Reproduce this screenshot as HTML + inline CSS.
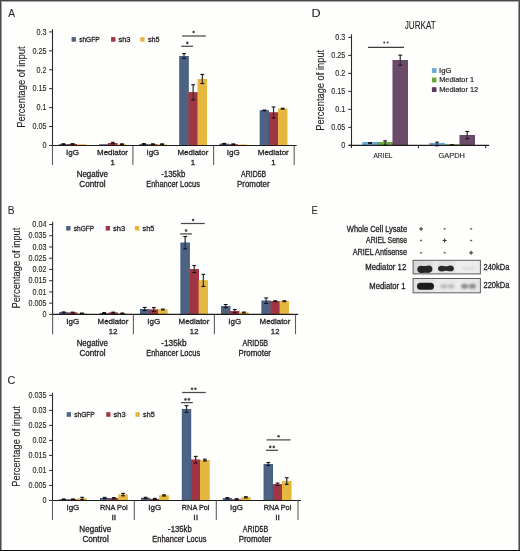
<!DOCTYPE html>
<html><head><meta charset="utf-8"><style>
html,body{margin:0;padding:0;background:#fff;}
body{width:520px;height:551px;overflow:hidden;position:relative;}
svg{position:absolute;left:0;top:0;will-change:transform;font-family:"Liberation Sans",sans-serif;}
</style></head><body>
<svg width="520" height="551" viewBox="0 0 520 551">
<defs>
<filter id="bl" x="-20%" y="-50%" width="140%" height="200%"><feGaussianBlur stdDeviation="0.6"/></filter>
<filter id="bl2" x="-20%" y="-50%" width="140%" height="200%"><feGaussianBlur stdDeviation="0.9"/></filter>
<linearGradient id="bg1" x1="413" x2="480.4" y1="0" y2="0" gradientUnits="userSpaceOnUse">
<stop offset="0" stop-color="#d8d8d8"/><stop offset="0.28" stop-color="#dcdcdc"/><stop offset="0.33" stop-color="#ececec"/><stop offset="0.38" stop-color="#e0e0e0"/><stop offset="0.6" stop-color="#e2e2e2"/><stop offset="0.66" stop-color="#eeeeee"/><stop offset="1" stop-color="#eaeaea"/></linearGradient>
<linearGradient id="bg2" x1="413" x2="480.4" y1="0" y2="0" gradientUnits="userSpaceOnUse">
<stop offset="0" stop-color="#e2e2e2"/><stop offset="0.3" stop-color="#e4e4e4"/><stop offset="0.36" stop-color="#ececec"/><stop offset="0.6" stop-color="#e6e6e6"/><stop offset="0.66" stop-color="#ececec"/><stop offset="1" stop-color="#e4e4e4"/></linearGradient>
</defs>
<rect x="0" y="0" width="520" height="551" fill="#fefefc"/>
<line x1="49.10" y1="145.45" x2="52.50" y2="145.45" stroke="#2a2a2a" stroke-width="1"/>
<text transform="translate(42.74,148.20) scale(0.8800,1)" x="-0.32" y="0" font-size="8.2" fill="#231f20" stroke="#231f20" stroke-width="0.12">0</text>
<line x1="49.10" y1="126.52" x2="52.50" y2="126.52" stroke="#2a2a2a" stroke-width="1"/>
<text transform="translate(32.73,129.27) scale(0.8800,1)" x="-0.32" y="0" font-size="8.2" fill="#231f20" stroke="#231f20" stroke-width="0.12">0.05</text>
<line x1="49.10" y1="107.60" x2="52.50" y2="107.60" stroke="#2a2a2a" stroke-width="1"/>
<text transform="translate(36.80,110.35) scale(0.8800,1)" x="-0.32" y="0" font-size="8.2" fill="#231f20" stroke="#231f20" stroke-width="0.12">0.1</text>
<line x1="49.10" y1="88.67" x2="52.50" y2="88.67" stroke="#2a2a2a" stroke-width="1"/>
<text transform="translate(32.73,91.42) scale(0.8800,1)" x="-0.32" y="0" font-size="8.2" fill="#231f20" stroke="#231f20" stroke-width="0.12">0.15</text>
<line x1="49.10" y1="69.75" x2="52.50" y2="69.75" stroke="#2a2a2a" stroke-width="1"/>
<text transform="translate(36.81,72.50) scale(0.8800,1)" x="-0.32" y="0" font-size="8.2" fill="#231f20" stroke="#231f20" stroke-width="0.12">0.2</text>
<line x1="49.10" y1="50.83" x2="52.50" y2="50.83" stroke="#2a2a2a" stroke-width="1"/>
<text transform="translate(32.73,53.58) scale(0.8800,1)" x="-0.32" y="0" font-size="8.2" fill="#231f20" stroke="#231f20" stroke-width="0.12">0.25</text>
<line x1="49.10" y1="31.90" x2="52.50" y2="31.90" stroke="#2a2a2a" stroke-width="1"/>
<text transform="translate(36.76,34.65) scale(0.8800,1)" x="-0.32" y="0" font-size="8.2" fill="#231f20" stroke="#231f20" stroke-width="0.12">0.3</text>
<rect x="58.87" y="144.10" width="9.15" height="1.35" fill="#4e6382"/>
<rect x="68.02" y="143.98" width="9.15" height="1.47" fill="#a03644"/>
<rect x="77.17" y="144.25" width="9.15" height="1.20" fill="#e5b740"/>
<rect x="99.06" y="144.17" width="9.15" height="1.28" fill="#4e6382"/>
<rect x="108.21" y="143.04" width="9.15" height="2.41" fill="#a03644"/>
<rect x="108.61" y="143.44" width="8.35" height="2.01" fill="none" stroke="#a8323f" stroke-width="0.8"/>
<rect x="117.36" y="144.17" width="9.15" height="1.28" fill="#e5b740"/>
<rect x="139.25" y="143.98" width="9.15" height="1.47" fill="#4e6382"/>
<rect x="148.40" y="144.17" width="9.15" height="1.28" fill="#a03644"/>
<rect x="157.55" y="144.17" width="9.15" height="1.28" fill="#e5b740"/>
<rect x="179.44" y="56.01" width="9.15" height="89.44" fill="#4e6382"/>
<rect x="179.84" y="56.41" width="8.35" height="89.04" fill="none" stroke="#3f5f8c" stroke-width="0.8"/>
<rect x="188.59" y="92.31" width="9.15" height="53.14" fill="#a03644"/>
<rect x="188.99" y="92.71" width="8.35" height="52.74" fill="none" stroke="#a8323f" stroke-width="0.8"/>
<rect x="197.74" y="78.99" width="9.15" height="66.46" fill="#e5b740"/>
<rect x="198.14" y="79.39" width="8.35" height="66.06" fill="none" stroke="#e8b838" stroke-width="0.8"/>
<rect x="219.63" y="143.79" width="9.15" height="1.66" fill="#4e6382"/>
<rect x="220.03" y="144.19" width="8.35" height="1.26" fill="none" stroke="#3f5f8c" stroke-width="0.8"/>
<rect x="228.78" y="144.17" width="9.15" height="1.28" fill="#a03644"/>
<rect x="237.93" y="144.44" width="9.15" height="1.01" fill="#e5b740"/>
<rect x="259.82" y="110.40" width="9.15" height="35.05" fill="#4e6382"/>
<rect x="260.22" y="110.80" width="8.35" height="34.65" fill="none" stroke="#3f5f8c" stroke-width="0.8"/>
<rect x="268.97" y="112.48" width="9.15" height="32.97" fill="#a03644"/>
<rect x="269.37" y="112.88" width="8.35" height="32.57" fill="none" stroke="#a8323f" stroke-width="0.8"/>
<rect x="278.12" y="108.70" width="9.15" height="36.75" fill="#e5b740"/>
<rect x="278.52" y="109.10" width="8.35" height="36.35" fill="none" stroke="#e8b838" stroke-width="0.8"/>
<line x1="52.50" y1="29.20" x2="52.50" y2="145.45" stroke="#2a2a2a" stroke-width="1.1"/>
<line x1="52.50" y1="145.45" x2="52.50" y2="165.00" stroke="#5e5e5e" stroke-width="1.1"/>
<line x1="52.50" y1="145.45" x2="296.70" y2="145.45" stroke="#1c1c1c" stroke-width="1.1"/>
<line x1="132.90" y1="145.45" x2="132.90" y2="165.00" stroke="#5e5e5e" stroke-width="1.1"/>
<line x1="213.60" y1="145.45" x2="213.60" y2="165.00" stroke="#5e5e5e" stroke-width="1.1"/>
<line x1="294.20" y1="145.45" x2="294.20" y2="165.00" stroke="#5e5e5e" stroke-width="1.1"/>
<line x1="63.45" y1="143.79" x2="63.45" y2="144.40" stroke="#333" stroke-width="1.25"/>
<line x1="61.55" y1="143.79" x2="65.34" y2="143.79" stroke="#111" stroke-width="1.1"/>
<line x1="61.55" y1="144.40" x2="65.34" y2="144.40" stroke="#111" stroke-width="1.1"/>
<line x1="72.59" y1="143.68" x2="72.59" y2="144.29" stroke="#333" stroke-width="1.25"/>
<line x1="70.69" y1="143.68" x2="74.50" y2="143.68" stroke="#111" stroke-width="1.1"/>
<line x1="70.69" y1="144.29" x2="74.50" y2="144.29" stroke="#111" stroke-width="1.1"/>
<line x1="112.79" y1="142.28" x2="112.79" y2="143.79" stroke="#333" stroke-width="1.25"/>
<line x1="110.89" y1="142.28" x2="114.69" y2="142.28" stroke="#111" stroke-width="1.1"/>
<line x1="110.89" y1="143.79" x2="114.69" y2="143.79" stroke="#111" stroke-width="1.1"/>
<line x1="121.94" y1="143.87" x2="121.94" y2="144.47" stroke="#333" stroke-width="1.25"/>
<line x1="120.03" y1="143.87" x2="123.84" y2="143.87" stroke="#111" stroke-width="1.1"/>
<line x1="120.03" y1="144.47" x2="123.84" y2="144.47" stroke="#111" stroke-width="1.1"/>
<line x1="143.82" y1="143.60" x2="143.82" y2="144.36" stroke="#333" stroke-width="1.25"/>
<line x1="141.92" y1="143.60" x2="145.72" y2="143.60" stroke="#111" stroke-width="1.1"/>
<line x1="141.92" y1="144.36" x2="145.72" y2="144.36" stroke="#111" stroke-width="1.1"/>
<line x1="152.97" y1="143.87" x2="152.97" y2="144.47" stroke="#333" stroke-width="1.25"/>
<line x1="151.07" y1="143.87" x2="154.88" y2="143.87" stroke="#111" stroke-width="1.1"/>
<line x1="151.07" y1="144.47" x2="154.88" y2="144.47" stroke="#111" stroke-width="1.1"/>
<line x1="162.12" y1="143.87" x2="162.12" y2="144.47" stroke="#333" stroke-width="1.25"/>
<line x1="160.22" y1="143.87" x2="164.03" y2="143.87" stroke="#111" stroke-width="1.1"/>
<line x1="160.22" y1="144.47" x2="164.03" y2="144.47" stroke="#111" stroke-width="1.1"/>
<line x1="184.01" y1="53.55" x2="184.01" y2="58.47" stroke="#333" stroke-width="1.25"/>
<line x1="182.11" y1="53.55" x2="185.91" y2="53.55" stroke="#111" stroke-width="1.1"/>
<line x1="182.11" y1="58.47" x2="185.91" y2="58.47" stroke="#111" stroke-width="1.1"/>
<line x1="193.16" y1="84.74" x2="193.16" y2="99.88" stroke="#333" stroke-width="1.25"/>
<line x1="191.26" y1="84.74" x2="195.06" y2="84.74" stroke="#111" stroke-width="1.1"/>
<line x1="191.26" y1="99.88" x2="195.06" y2="99.88" stroke="#111" stroke-width="1.1"/>
<line x1="202.31" y1="74.44" x2="202.31" y2="83.53" stroke="#333" stroke-width="1.25"/>
<line x1="200.41" y1="74.44" x2="204.22" y2="74.44" stroke="#111" stroke-width="1.1"/>
<line x1="200.41" y1="83.53" x2="204.22" y2="83.53" stroke="#111" stroke-width="1.1"/>
<line x1="224.20" y1="143.41" x2="224.20" y2="144.17" stroke="#333" stroke-width="1.25"/>
<line x1="222.30" y1="143.41" x2="226.10" y2="143.41" stroke="#111" stroke-width="1.1"/>
<line x1="222.30" y1="144.17" x2="226.10" y2="144.17" stroke="#111" stroke-width="1.1"/>
<line x1="233.35" y1="143.94" x2="233.35" y2="144.40" stroke="#333" stroke-width="1.25"/>
<line x1="231.45" y1="143.94" x2="235.25" y2="143.94" stroke="#111" stroke-width="1.1"/>
<line x1="231.45" y1="144.40" x2="235.25" y2="144.40" stroke="#111" stroke-width="1.1"/>
<line x1="264.39" y1="110.02" x2="264.39" y2="110.78" stroke="#333" stroke-width="1.25"/>
<line x1="262.49" y1="110.02" x2="266.29" y2="110.02" stroke="#111" stroke-width="1.1"/>
<line x1="262.49" y1="110.78" x2="266.29" y2="110.78" stroke="#111" stroke-width="1.1"/>
<line x1="273.54" y1="106.99" x2="273.54" y2="117.97" stroke="#333" stroke-width="1.25"/>
<line x1="271.64" y1="106.99" x2="275.44" y2="106.99" stroke="#111" stroke-width="1.1"/>
<line x1="271.64" y1="117.97" x2="275.44" y2="117.97" stroke="#111" stroke-width="1.1"/>
<line x1="282.69" y1="108.24" x2="282.69" y2="109.15" stroke="#333" stroke-width="1.25"/>
<line x1="280.79" y1="108.24" x2="284.59" y2="108.24" stroke="#111" stroke-width="1.1"/>
<line x1="280.79" y1="109.15" x2="284.59" y2="109.15" stroke="#111" stroke-width="1.1"/>
<text transform="translate(66.80,155.10) scale(0.9904,1)" x="-0.75" y="0" font-size="8.1" fill="#231f20" stroke="#231f20" stroke-width="0.3">IgG</text>
<text transform="translate(97.69,155.10) scale(0.9830,1)" x="-0.66" y="0" font-size="8.1" fill="#231f20" stroke="#231f20" stroke-width="0.3">Mediator</text>
<text transform="translate(111.09,164.70) scale(0.9700,1)" x="-0.62" y="0" font-size="8.1" fill="#231f20" stroke="#231f20" stroke-width="0.3">1</text>
<text transform="translate(147.17,155.10) scale(0.9904,1)" x="-0.75" y="0" font-size="8.1" fill="#231f20" stroke="#231f20" stroke-width="0.3">IgG</text>
<text transform="translate(178.06,155.10) scale(0.9830,1)" x="-0.66" y="0" font-size="8.1" fill="#231f20" stroke="#231f20" stroke-width="0.3">Mediator</text>
<text transform="translate(191.47,164.70) scale(0.9700,1)" x="-0.62" y="0" font-size="8.1" fill="#231f20" stroke="#231f20" stroke-width="0.3">1</text>
<text transform="translate(227.55,155.10) scale(0.9904,1)" x="-0.75" y="0" font-size="8.1" fill="#231f20" stroke="#231f20" stroke-width="0.3">IgG</text>
<text transform="translate(258.44,155.10) scale(0.9830,1)" x="-0.66" y="0" font-size="8.1" fill="#231f20" stroke="#231f20" stroke-width="0.3">Mediator</text>
<text transform="translate(271.85,164.70) scale(0.9700,1)" x="-0.62" y="0" font-size="8.1" fill="#231f20" stroke="#231f20" stroke-width="0.3">1</text>
<rect x="71.60" y="37.10" width="4.30" height="4.60" fill="#4e6382"/>
<rect x="111.10" y="37.10" width="4.30" height="4.60" fill="#a03644"/>
<rect x="140.30" y="37.10" width="4.30" height="4.60" fill="#e5b740"/>
<text transform="translate(79.30,42.20) scale(0.8454,1)" x="-0.21" y="0" font-size="7.8" fill="#231f20" stroke="#231f20" stroke-width="0.3">shGFP</text>
<text transform="translate(118.60,42.20) scale(0.9644,1)" x="-0.21" y="0" font-size="7.8" fill="#231f20" stroke="#231f20" stroke-width="0.3">sh3</text>
<text transform="translate(148.10,42.20) scale(0.9300,1)" x="-0.21" y="0" font-size="7.8" fill="#231f20" stroke="#231f20" stroke-width="0.3">sh5</text>
<text transform="translate(24.50,127.10) rotate(-90) scale(0.9228,1)" x="-0.84" y="0" font-size="10.2" fill="#231f20" stroke="#231f20" stroke-width="0.12">Percentage of input</text>
<text transform="translate(77.40,176.80) scale(0.9671,1)" x="-0.67" y="0" font-size="8.2" fill="#231f20" stroke="#231f20" stroke-width="0.3">Negative</text>
<text transform="translate(79.70,186.50) scale(0.9970,1)" x="-0.41" y="0" font-size="8.2" fill="#231f20" stroke="#231f20" stroke-width="0.3">Control</text>
<text transform="translate(161.50,177.00) scale(0.9643,1)" x="-0.36" y="0" font-size="8.2" fill="#231f20" stroke="#231f20" stroke-width="0.3">-135kb</text>
<text transform="translate(146.80,186.90) scale(0.9075,1)" x="-0.67" y="0" font-size="8.2" fill="#231f20" stroke="#231f20" stroke-width="0.3">Enhancer Locus</text>
<text transform="translate(241.10,176.90) scale(0.8466,1)" x="-0.02" y="0" font-size="8.2" fill="#231f20" stroke="#231f20" stroke-width="0.3">ARID5B</text>
<text transform="translate(237.70,186.50) scale(0.9661,1)" x="-0.67" y="0" font-size="8.2" fill="#231f20" stroke="#231f20" stroke-width="0.3">Promoter</text>
<line x1="181.20" y1="46.30" x2="193.10" y2="46.30" stroke="#4a4a4a" stroke-width="1.25"/>
<circle cx="187.30" cy="42.90" r="1.3" fill="#4a4a4a"/>
<line x1="182.10" y1="36.00" x2="205.80" y2="36.00" stroke="#4a4a4a" stroke-width="1.25"/>
<circle cx="193.60" cy="32.00" r="1.3" fill="#4a4a4a"/>
<line x1="49.20" y1="314.40" x2="52.60" y2="314.40" stroke="#2a2a2a" stroke-width="1"/>
<text transform="translate(42.74,317.15) scale(0.8800,1)" x="-0.32" y="0" font-size="8.2" fill="#231f20" stroke="#231f20" stroke-width="0.12">0</text>
<line x1="49.20" y1="303.16" x2="52.60" y2="303.16" stroke="#2a2a2a" stroke-width="1"/>
<text transform="translate(28.72,305.91) scale(0.8800,1)" x="-0.32" y="0" font-size="8.2" fill="#231f20" stroke="#231f20" stroke-width="0.12">0.005</text>
<line x1="49.20" y1="291.92" x2="52.60" y2="291.92" stroke="#2a2a2a" stroke-width="1"/>
<text transform="translate(32.79,294.67) scale(0.8800,1)" x="-0.32" y="0" font-size="8.2" fill="#231f20" stroke="#231f20" stroke-width="0.12">0.01</text>
<line x1="49.20" y1="280.69" x2="52.60" y2="280.69" stroke="#2a2a2a" stroke-width="1"/>
<text transform="translate(28.72,283.44) scale(0.8800,1)" x="-0.32" y="0" font-size="8.2" fill="#231f20" stroke="#231f20" stroke-width="0.12">0.015</text>
<line x1="49.20" y1="269.45" x2="52.60" y2="269.45" stroke="#2a2a2a" stroke-width="1"/>
<text transform="translate(32.80,272.20) scale(0.8800,1)" x="-0.32" y="0" font-size="8.2" fill="#231f20" stroke="#231f20" stroke-width="0.12">0.02</text>
<line x1="49.20" y1="258.21" x2="52.60" y2="258.21" stroke="#2a2a2a" stroke-width="1"/>
<text transform="translate(28.72,260.96) scale(0.8800,1)" x="-0.32" y="0" font-size="8.2" fill="#231f20" stroke="#231f20" stroke-width="0.12">0.025</text>
<line x1="49.20" y1="246.97" x2="52.60" y2="246.97" stroke="#2a2a2a" stroke-width="1"/>
<text transform="translate(32.75,249.72) scale(0.8800,1)" x="-0.32" y="0" font-size="8.2" fill="#231f20" stroke="#231f20" stroke-width="0.12">0.03</text>
<line x1="49.20" y1="235.74" x2="52.60" y2="235.74" stroke="#2a2a2a" stroke-width="1"/>
<text transform="translate(28.72,238.49) scale(0.8800,1)" x="-0.32" y="0" font-size="8.2" fill="#231f20" stroke="#231f20" stroke-width="0.12">0.035</text>
<line x1="49.20" y1="224.50" x2="52.60" y2="224.50" stroke="#2a2a2a" stroke-width="1"/>
<text transform="translate(32.65,227.25) scale(0.8800,1)" x="-0.32" y="0" font-size="8.2" fill="#231f20" stroke="#231f20" stroke-width="0.12">0.04</text>
<rect x="59.10" y="312.38" width="9.10" height="2.02" fill="#4e6382"/>
<rect x="59.50" y="312.78" width="8.30" height="1.62" fill="none" stroke="#3f5f8c" stroke-width="0.8"/>
<rect x="68.20" y="312.60" width="9.10" height="1.80" fill="#a03644"/>
<rect x="68.60" y="313.00" width="8.30" height="1.40" fill="none" stroke="#a8323f" stroke-width="0.8"/>
<rect x="77.30" y="313.28" width="9.10" height="1.12" fill="#e5b740"/>
<rect x="99.60" y="313.05" width="9.10" height="1.35" fill="#4e6382"/>
<rect x="108.70" y="312.60" width="9.10" height="1.80" fill="#a03644"/>
<rect x="109.10" y="313.00" width="8.30" height="1.40" fill="none" stroke="#a8323f" stroke-width="0.8"/>
<rect x="117.80" y="313.28" width="9.10" height="1.12" fill="#e5b740"/>
<rect x="140.10" y="309.01" width="9.10" height="5.39" fill="#4e6382"/>
<rect x="140.50" y="309.41" width="8.30" height="4.99" fill="none" stroke="#3f5f8c" stroke-width="0.8"/>
<rect x="149.20" y="309.59" width="9.10" height="4.81" fill="#a03644"/>
<rect x="149.60" y="309.99" width="8.30" height="4.41" fill="none" stroke="#a8323f" stroke-width="0.8"/>
<rect x="158.30" y="309.50" width="9.10" height="4.90" fill="#e5b740"/>
<rect x="158.70" y="309.90" width="8.30" height="4.50" fill="none" stroke="#e8b838" stroke-width="0.8"/>
<rect x="180.60" y="242.70" width="9.10" height="71.70" fill="#4e6382"/>
<rect x="181.00" y="243.10" width="8.30" height="71.30" fill="none" stroke="#3f5f8c" stroke-width="0.8"/>
<rect x="189.70" y="269.00" width="9.10" height="45.40" fill="#a03644"/>
<rect x="190.10" y="269.40" width="8.30" height="45.00" fill="none" stroke="#a8323f" stroke-width="0.8"/>
<rect x="198.80" y="280.40" width="9.10" height="34.00" fill="#e5b740"/>
<rect x="199.20" y="280.80" width="8.30" height="33.60" fill="none" stroke="#e8b838" stroke-width="0.8"/>
<rect x="221.10" y="306.11" width="9.10" height="8.29" fill="#4e6382"/>
<rect x="221.50" y="306.51" width="8.30" height="7.89" fill="none" stroke="#3f5f8c" stroke-width="0.8"/>
<rect x="230.20" y="311.10" width="9.10" height="3.30" fill="#a03644"/>
<rect x="230.60" y="311.50" width="8.30" height="2.90" fill="none" stroke="#a8323f" stroke-width="0.8"/>
<rect x="239.30" y="312.51" width="9.10" height="1.89" fill="#e5b740"/>
<rect x="239.70" y="312.91" width="8.30" height="1.49" fill="none" stroke="#e8b838" stroke-width="0.8"/>
<rect x="261.60" y="300.69" width="9.10" height="13.71" fill="#4e6382"/>
<rect x="262.00" y="301.09" width="8.30" height="13.31" fill="none" stroke="#3f5f8c" stroke-width="0.8"/>
<rect x="270.70" y="301.21" width="9.10" height="13.19" fill="#a03644"/>
<rect x="271.10" y="301.61" width="8.30" height="12.79" fill="none" stroke="#a8323f" stroke-width="0.8"/>
<rect x="279.80" y="301.21" width="9.10" height="13.19" fill="#e5b740"/>
<rect x="280.20" y="301.61" width="8.30" height="12.79" fill="none" stroke="#e8b838" stroke-width="0.8"/>
<line x1="52.60" y1="221.80" x2="52.60" y2="314.40" stroke="#2a2a2a" stroke-width="1.1"/>
<line x1="52.60" y1="314.40" x2="52.60" y2="334.20" stroke="#5e5e5e" stroke-width="1.1"/>
<line x1="52.60" y1="314.40" x2="298.20" y2="314.40" stroke="#1c1c1c" stroke-width="1.1"/>
<line x1="133.40" y1="314.40" x2="133.40" y2="334.20" stroke="#5e5e5e" stroke-width="1.1"/>
<line x1="214.40" y1="314.40" x2="214.40" y2="334.20" stroke="#5e5e5e" stroke-width="1.1"/>
<line x1="295.50" y1="314.40" x2="295.50" y2="334.20" stroke="#5e5e5e" stroke-width="1.1"/>
<line x1="63.65" y1="311.93" x2="63.65" y2="312.83" stroke="#333" stroke-width="1.25"/>
<line x1="61.75" y1="311.93" x2="65.55" y2="311.93" stroke="#111" stroke-width="1.1"/>
<line x1="61.75" y1="312.83" x2="65.55" y2="312.83" stroke="#111" stroke-width="1.1"/>
<line x1="72.75" y1="312.15" x2="72.75" y2="313.05" stroke="#333" stroke-width="1.25"/>
<line x1="70.85" y1="312.15" x2="74.65" y2="312.15" stroke="#111" stroke-width="1.1"/>
<line x1="70.85" y1="313.05" x2="74.65" y2="313.05" stroke="#111" stroke-width="1.1"/>
<line x1="81.85" y1="313.05" x2="81.85" y2="313.50" stroke="#333" stroke-width="1.25"/>
<line x1="79.95" y1="313.05" x2="83.75" y2="313.05" stroke="#111" stroke-width="1.1"/>
<line x1="79.95" y1="313.50" x2="83.75" y2="313.50" stroke="#111" stroke-width="1.1"/>
<line x1="104.15" y1="312.60" x2="104.15" y2="313.50" stroke="#333" stroke-width="1.25"/>
<line x1="102.25" y1="312.60" x2="106.05" y2="312.60" stroke="#111" stroke-width="1.1"/>
<line x1="102.25" y1="313.50" x2="106.05" y2="313.50" stroke="#111" stroke-width="1.1"/>
<line x1="113.25" y1="312.15" x2="113.25" y2="313.05" stroke="#333" stroke-width="1.25"/>
<line x1="111.35" y1="312.15" x2="115.15" y2="312.15" stroke="#111" stroke-width="1.1"/>
<line x1="111.35" y1="313.05" x2="115.15" y2="313.05" stroke="#111" stroke-width="1.1"/>
<line x1="122.35" y1="313.05" x2="122.35" y2="313.50" stroke="#333" stroke-width="1.25"/>
<line x1="120.45" y1="313.05" x2="124.25" y2="313.05" stroke="#111" stroke-width="1.1"/>
<line x1="120.45" y1="313.50" x2="124.25" y2="313.50" stroke="#111" stroke-width="1.1"/>
<line x1="144.65" y1="307.43" x2="144.65" y2="310.58" stroke="#333" stroke-width="1.25"/>
<line x1="142.75" y1="307.43" x2="146.55" y2="307.43" stroke="#111" stroke-width="1.1"/>
<line x1="142.75" y1="310.58" x2="146.55" y2="310.58" stroke="#111" stroke-width="1.1"/>
<line x1="153.75" y1="307.57" x2="153.75" y2="311.61" stroke="#333" stroke-width="1.25"/>
<line x1="151.85" y1="307.57" x2="155.65" y2="307.57" stroke="#111" stroke-width="1.1"/>
<line x1="151.85" y1="311.61" x2="155.65" y2="311.61" stroke="#111" stroke-width="1.1"/>
<line x1="162.85" y1="309.05" x2="162.85" y2="309.95" stroke="#333" stroke-width="1.25"/>
<line x1="160.95" y1="309.05" x2="164.75" y2="309.05" stroke="#111" stroke-width="1.1"/>
<line x1="160.95" y1="309.95" x2="164.75" y2="309.95" stroke="#111" stroke-width="1.1"/>
<line x1="185.15" y1="236.50" x2="185.15" y2="248.91" stroke="#333" stroke-width="1.25"/>
<line x1="183.25" y1="236.50" x2="187.05" y2="236.50" stroke="#111" stroke-width="1.1"/>
<line x1="183.25" y1="248.91" x2="187.05" y2="248.91" stroke="#111" stroke-width="1.1"/>
<line x1="194.25" y1="265.49" x2="194.25" y2="272.51" stroke="#333" stroke-width="1.25"/>
<line x1="192.35" y1="265.49" x2="196.15" y2="265.49" stroke="#111" stroke-width="1.1"/>
<line x1="192.35" y1="272.51" x2="196.15" y2="272.51" stroke="#111" stroke-width="1.1"/>
<line x1="203.35" y1="274.39" x2="203.35" y2="286.40" stroke="#333" stroke-width="1.25"/>
<line x1="201.45" y1="274.39" x2="205.25" y2="274.39" stroke="#111" stroke-width="1.1"/>
<line x1="201.45" y1="286.40" x2="205.25" y2="286.40" stroke="#111" stroke-width="1.1"/>
<line x1="225.65" y1="304.53" x2="225.65" y2="307.68" stroke="#333" stroke-width="1.25"/>
<line x1="223.75" y1="304.53" x2="227.55" y2="304.53" stroke="#111" stroke-width="1.1"/>
<line x1="223.75" y1="307.68" x2="227.55" y2="307.68" stroke="#111" stroke-width="1.1"/>
<line x1="234.75" y1="309.52" x2="234.75" y2="312.67" stroke="#333" stroke-width="1.25"/>
<line x1="232.85" y1="309.52" x2="236.65" y2="309.52" stroke="#111" stroke-width="1.1"/>
<line x1="232.85" y1="312.67" x2="236.65" y2="312.67" stroke="#111" stroke-width="1.1"/>
<line x1="243.85" y1="312.06" x2="243.85" y2="312.96" stroke="#333" stroke-width="1.25"/>
<line x1="241.95" y1="312.06" x2="245.75" y2="312.06" stroke="#111" stroke-width="1.1"/>
<line x1="241.95" y1="312.96" x2="245.75" y2="312.96" stroke="#111" stroke-width="1.1"/>
<line x1="266.15" y1="297.99" x2="266.15" y2="303.39" stroke="#333" stroke-width="1.25"/>
<line x1="264.25" y1="297.99" x2="268.05" y2="297.99" stroke="#111" stroke-width="1.1"/>
<line x1="264.25" y1="303.39" x2="268.05" y2="303.39" stroke="#111" stroke-width="1.1"/>
<line x1="275.25" y1="300.76" x2="275.25" y2="301.66" stroke="#333" stroke-width="1.25"/>
<line x1="273.35" y1="300.76" x2="277.15" y2="300.76" stroke="#111" stroke-width="1.1"/>
<line x1="273.35" y1="301.66" x2="277.15" y2="301.66" stroke="#111" stroke-width="1.1"/>
<line x1="284.35" y1="300.76" x2="284.35" y2="301.66" stroke="#333" stroke-width="1.25"/>
<line x1="282.45" y1="300.76" x2="286.25" y2="300.76" stroke="#111" stroke-width="1.1"/>
<line x1="282.45" y1="301.66" x2="286.25" y2="301.66" stroke="#111" stroke-width="1.1"/>
<text transform="translate(66.95,324.20) scale(0.9904,1)" x="-0.75" y="0" font-size="8.1" fill="#231f20" stroke="#231f20" stroke-width="0.3">IgG</text>
<text transform="translate(98.15,324.20) scale(0.9830,1)" x="-0.66" y="0" font-size="8.1" fill="#231f20" stroke="#231f20" stroke-width="0.3">Mediator</text>
<text transform="translate(109.45,333.90) scale(0.9516,1)" x="-0.62" y="0" font-size="8.1" fill="#231f20" stroke="#231f20" stroke-width="0.3">12</text>
<text transform="translate(147.95,324.20) scale(0.9904,1)" x="-0.75" y="0" font-size="8.1" fill="#231f20" stroke="#231f20" stroke-width="0.3">IgG</text>
<text transform="translate(179.15,324.20) scale(0.9830,1)" x="-0.66" y="0" font-size="8.1" fill="#231f20" stroke="#231f20" stroke-width="0.3">Mediator</text>
<text transform="translate(190.45,333.90) scale(0.9516,1)" x="-0.62" y="0" font-size="8.1" fill="#231f20" stroke="#231f20" stroke-width="0.3">12</text>
<text transform="translate(228.95,324.20) scale(0.9904,1)" x="-0.75" y="0" font-size="8.1" fill="#231f20" stroke="#231f20" stroke-width="0.3">IgG</text>
<text transform="translate(260.15,324.20) scale(0.9830,1)" x="-0.66" y="0" font-size="8.1" fill="#231f20" stroke="#231f20" stroke-width="0.3">Mediator</text>
<text transform="translate(271.45,333.90) scale(0.9516,1)" x="-0.62" y="0" font-size="8.1" fill="#231f20" stroke="#231f20" stroke-width="0.3">12</text>
<rect x="66.20" y="226.00" width="4.30" height="4.60" fill="#4e6382"/>
<rect x="105.70" y="226.00" width="4.30" height="4.60" fill="#a03644"/>
<rect x="134.90" y="226.00" width="4.30" height="4.60" fill="#e5b740"/>
<text transform="translate(73.90,231.10) scale(0.8454,1)" x="-0.21" y="0" font-size="7.8" fill="#231f20" stroke="#231f20" stroke-width="0.3">shGFP</text>
<text transform="translate(113.20,231.10) scale(0.9644,1)" x="-0.21" y="0" font-size="7.8" fill="#231f20" stroke="#231f20" stroke-width="0.3">sh3</text>
<text transform="translate(142.70,231.10) scale(0.9300,1)" x="-0.21" y="0" font-size="7.8" fill="#231f20" stroke="#231f20" stroke-width="0.3">sh5</text>
<text transform="translate(20.30,307.80) rotate(-90) scale(0.9171,1)" x="-0.84" y="0" font-size="10.2" fill="#231f20" stroke="#231f20" stroke-width="0.12">Percentage of input</text>
<text transform="translate(77.30,346.30) scale(0.9671,1)" x="-0.67" y="0" font-size="8.2" fill="#231f20" stroke="#231f20" stroke-width="0.3">Negative</text>
<text transform="translate(79.80,355.80) scale(0.9891,1)" x="-0.41" y="0" font-size="8.2" fill="#231f20" stroke="#231f20" stroke-width="0.3">Control</text>
<text transform="translate(161.50,346.40) scale(1.0135,1)" x="-0.36" y="0" font-size="8.2" fill="#231f20" stroke="#231f20" stroke-width="0.3">-135kb</text>
<text transform="translate(146.80,356.00) scale(0.9126,1)" x="-0.67" y="0" font-size="8.2" fill="#231f20" stroke="#231f20" stroke-width="0.3">Enhancer Locus</text>
<text transform="translate(242.50,346.40) scale(0.8637,1)" x="-0.02" y="0" font-size="8.2" fill="#231f20" stroke="#231f20" stroke-width="0.3">ARID5B</text>
<text transform="translate(239.10,356.00) scale(0.9631,1)" x="-0.67" y="0" font-size="8.2" fill="#231f20" stroke="#231f20" stroke-width="0.3">Promoter</text>
<line x1="180.10" y1="233.90" x2="191.90" y2="233.90" stroke="#4a4a4a" stroke-width="1.25"/>
<circle cx="186.10" cy="230.60" r="1.3" fill="#4a4a4a"/>
<line x1="181.00" y1="223.50" x2="204.80" y2="223.50" stroke="#4a4a4a" stroke-width="1.25"/>
<circle cx="193.10" cy="220.00" r="1.3" fill="#4a4a4a"/>
<line x1="49.10" y1="500.45" x2="52.50" y2="500.45" stroke="#2a2a2a" stroke-width="1"/>
<text transform="translate(42.74,503.20) scale(0.8800,1)" x="-0.32" y="0" font-size="8.2" fill="#231f20" stroke="#231f20" stroke-width="0.12">0</text>
<line x1="49.10" y1="485.44" x2="52.50" y2="485.44" stroke="#2a2a2a" stroke-width="1"/>
<text transform="translate(28.72,488.19) scale(0.8800,1)" x="-0.32" y="0" font-size="8.2" fill="#231f20" stroke="#231f20" stroke-width="0.12">0.005</text>
<line x1="49.10" y1="470.44" x2="52.50" y2="470.44" stroke="#2a2a2a" stroke-width="1"/>
<text transform="translate(32.79,473.19) scale(0.8800,1)" x="-0.32" y="0" font-size="8.2" fill="#231f20" stroke="#231f20" stroke-width="0.12">0.01</text>
<line x1="49.10" y1="455.43" x2="52.50" y2="455.43" stroke="#2a2a2a" stroke-width="1"/>
<text transform="translate(28.72,458.18) scale(0.8800,1)" x="-0.32" y="0" font-size="8.2" fill="#231f20" stroke="#231f20" stroke-width="0.12">0.015</text>
<line x1="49.10" y1="440.42" x2="52.50" y2="440.42" stroke="#2a2a2a" stroke-width="1"/>
<text transform="translate(32.80,443.17) scale(0.8800,1)" x="-0.32" y="0" font-size="8.2" fill="#231f20" stroke="#231f20" stroke-width="0.12">0.02</text>
<line x1="49.10" y1="425.41" x2="52.50" y2="425.41" stroke="#2a2a2a" stroke-width="1"/>
<text transform="translate(28.72,428.16) scale(0.8800,1)" x="-0.32" y="0" font-size="8.2" fill="#231f20" stroke="#231f20" stroke-width="0.12">0.025</text>
<line x1="49.10" y1="410.41" x2="52.50" y2="410.41" stroke="#2a2a2a" stroke-width="1"/>
<text transform="translate(32.75,413.16) scale(0.8800,1)" x="-0.32" y="0" font-size="8.2" fill="#231f20" stroke="#231f20" stroke-width="0.12">0.03</text>
<line x1="49.10" y1="395.40" x2="52.50" y2="395.40" stroke="#2a2a2a" stroke-width="1"/>
<text transform="translate(28.72,398.15) scale(0.8800,1)" x="-0.32" y="0" font-size="8.2" fill="#231f20" stroke="#231f20" stroke-width="0.12">0.035</text>
<rect x="59.16" y="499.25" width="9.20" height="1.20" fill="#4e6382"/>
<rect x="68.36" y="499.25" width="9.20" height="1.20" fill="#a03644"/>
<rect x="77.56" y="498.50" width="9.20" height="1.95" fill="#e5b740"/>
<rect x="77.96" y="498.90" width="8.40" height="1.55" fill="none" stroke="#e8b838" stroke-width="0.8"/>
<rect x="100.07" y="497.99" width="9.20" height="2.46" fill="#4e6382"/>
<rect x="100.47" y="498.39" width="8.40" height="2.06" fill="none" stroke="#3f5f8c" stroke-width="0.8"/>
<rect x="109.27" y="498.20" width="9.20" height="2.25" fill="#a03644"/>
<rect x="109.67" y="498.60" width="8.40" height="1.85" fill="none" stroke="#a8323f" stroke-width="0.8"/>
<rect x="118.47" y="494.60" width="9.20" height="5.85" fill="#e5b740"/>
<rect x="118.88" y="495.00" width="8.40" height="5.45" fill="none" stroke="#e8b838" stroke-width="0.8"/>
<rect x="140.99" y="497.90" width="9.20" height="2.55" fill="#4e6382"/>
<rect x="141.39" y="498.30" width="8.40" height="2.15" fill="none" stroke="#3f5f8c" stroke-width="0.8"/>
<rect x="150.19" y="498.95" width="9.20" height="1.50" fill="#a03644"/>
<rect x="150.59" y="499.35" width="8.40" height="1.10" fill="none" stroke="#a8323f" stroke-width="0.8"/>
<rect x="159.39" y="495.41" width="9.20" height="5.04" fill="#e5b740"/>
<rect x="159.79" y="495.81" width="8.40" height="4.64" fill="none" stroke="#e8b838" stroke-width="0.8"/>
<rect x="181.91" y="409.00" width="9.20" height="91.45" fill="#4e6382"/>
<rect x="182.31" y="409.40" width="8.40" height="91.05" fill="none" stroke="#3f5f8c" stroke-width="0.8"/>
<rect x="191.11" y="459.69" width="9.20" height="40.76" fill="#a03644"/>
<rect x="191.51" y="460.09" width="8.40" height="40.36" fill="none" stroke="#a8323f" stroke-width="0.8"/>
<rect x="200.31" y="460.11" width="9.20" height="40.34" fill="#e5b740"/>
<rect x="200.71" y="460.51" width="8.40" height="39.94" fill="none" stroke="#e8b838" stroke-width="0.8"/>
<rect x="222.82" y="498.20" width="9.20" height="2.25" fill="#4e6382"/>
<rect x="223.22" y="498.60" width="8.40" height="1.85" fill="none" stroke="#3f5f8c" stroke-width="0.8"/>
<rect x="232.02" y="499.25" width="9.20" height="1.20" fill="#a03644"/>
<rect x="241.22" y="497.30" width="9.20" height="3.15" fill="#e5b740"/>
<rect x="241.62" y="497.70" width="8.40" height="2.75" fill="none" stroke="#e8b838" stroke-width="0.8"/>
<rect x="263.74" y="464.01" width="9.20" height="36.44" fill="#4e6382"/>
<rect x="264.14" y="464.41" width="8.40" height="36.04" fill="none" stroke="#3f5f8c" stroke-width="0.8"/>
<rect x="272.94" y="484.30" width="9.20" height="16.15" fill="#a03644"/>
<rect x="273.34" y="484.70" width="8.40" height="15.75" fill="none" stroke="#a8323f" stroke-width="0.8"/>
<rect x="282.14" y="481.09" width="9.20" height="19.36" fill="#e5b740"/>
<rect x="282.54" y="481.49" width="8.40" height="18.96" fill="none" stroke="#e8b838" stroke-width="0.8"/>
<line x1="52.50" y1="392.70" x2="52.50" y2="500.45" stroke="#2a2a2a" stroke-width="1.1"/>
<line x1="52.50" y1="500.45" x2="52.50" y2="520.10" stroke="#5e5e5e" stroke-width="1.1"/>
<line x1="52.50" y1="500.45" x2="300.90" y2="500.45" stroke="#1c1c1c" stroke-width="1.1"/>
<line x1="134.30" y1="500.45" x2="134.30" y2="520.10" stroke="#5e5e5e" stroke-width="1.1"/>
<line x1="216.30" y1="500.45" x2="216.30" y2="520.10" stroke="#5e5e5e" stroke-width="1.1"/>
<line x1="298.00" y1="500.45" x2="298.00" y2="520.10" stroke="#5e5e5e" stroke-width="1.1"/>
<line x1="63.76" y1="498.95" x2="63.76" y2="499.55" stroke="#333" stroke-width="1.25"/>
<line x1="61.86" y1="498.95" x2="65.66" y2="498.95" stroke="#111" stroke-width="1.1"/>
<line x1="61.86" y1="499.55" x2="65.66" y2="499.55" stroke="#111" stroke-width="1.1"/>
<line x1="72.96" y1="498.95" x2="72.96" y2="499.55" stroke="#333" stroke-width="1.25"/>
<line x1="71.06" y1="498.95" x2="74.86" y2="498.95" stroke="#111" stroke-width="1.1"/>
<line x1="71.06" y1="499.55" x2="74.86" y2="499.55" stroke="#111" stroke-width="1.1"/>
<line x1="82.16" y1="497.30" x2="82.16" y2="499.70" stroke="#333" stroke-width="1.25"/>
<line x1="80.26" y1="497.30" x2="84.06" y2="497.30" stroke="#111" stroke-width="1.1"/>
<line x1="80.26" y1="499.70" x2="84.06" y2="499.70" stroke="#111" stroke-width="1.1"/>
<line x1="104.67" y1="497.39" x2="104.67" y2="498.59" stroke="#333" stroke-width="1.25"/>
<line x1="102.77" y1="497.39" x2="106.57" y2="497.39" stroke="#111" stroke-width="1.1"/>
<line x1="102.77" y1="498.59" x2="106.57" y2="498.59" stroke="#111" stroke-width="1.1"/>
<line x1="113.87" y1="497.60" x2="113.87" y2="498.80" stroke="#333" stroke-width="1.25"/>
<line x1="111.97" y1="497.60" x2="115.77" y2="497.60" stroke="#111" stroke-width="1.1"/>
<line x1="111.97" y1="498.80" x2="115.77" y2="498.80" stroke="#111" stroke-width="1.1"/>
<line x1="123.07" y1="493.40" x2="123.07" y2="495.80" stroke="#333" stroke-width="1.25"/>
<line x1="121.17" y1="493.40" x2="124.97" y2="493.40" stroke="#111" stroke-width="1.1"/>
<line x1="121.17" y1="495.80" x2="124.97" y2="495.80" stroke="#111" stroke-width="1.1"/>
<line x1="145.59" y1="497.30" x2="145.59" y2="498.50" stroke="#333" stroke-width="1.25"/>
<line x1="143.69" y1="497.30" x2="147.49" y2="497.30" stroke="#111" stroke-width="1.1"/>
<line x1="143.69" y1="498.50" x2="147.49" y2="498.50" stroke="#111" stroke-width="1.1"/>
<line x1="154.79" y1="498.35" x2="154.79" y2="499.55" stroke="#333" stroke-width="1.25"/>
<line x1="152.89" y1="498.35" x2="156.69" y2="498.35" stroke="#111" stroke-width="1.1"/>
<line x1="152.89" y1="499.55" x2="156.69" y2="499.55" stroke="#111" stroke-width="1.1"/>
<line x1="163.99" y1="494.81" x2="163.99" y2="496.01" stroke="#333" stroke-width="1.25"/>
<line x1="162.09" y1="494.81" x2="165.89" y2="494.81" stroke="#111" stroke-width="1.1"/>
<line x1="162.09" y1="496.01" x2="165.89" y2="496.01" stroke="#111" stroke-width="1.1"/>
<line x1="186.51" y1="405.69" x2="186.51" y2="412.30" stroke="#333" stroke-width="1.25"/>
<line x1="184.61" y1="405.69" x2="188.41" y2="405.69" stroke="#111" stroke-width="1.1"/>
<line x1="184.61" y1="412.30" x2="188.41" y2="412.30" stroke="#111" stroke-width="1.1"/>
<line x1="195.71" y1="456.39" x2="195.71" y2="462.99" stroke="#333" stroke-width="1.25"/>
<line x1="193.81" y1="456.39" x2="197.61" y2="456.39" stroke="#111" stroke-width="1.1"/>
<line x1="193.81" y1="462.99" x2="197.61" y2="462.99" stroke="#111" stroke-width="1.1"/>
<line x1="204.91" y1="459.21" x2="204.91" y2="461.01" stroke="#333" stroke-width="1.25"/>
<line x1="203.01" y1="459.21" x2="206.81" y2="459.21" stroke="#111" stroke-width="1.1"/>
<line x1="203.01" y1="461.01" x2="206.81" y2="461.01" stroke="#111" stroke-width="1.1"/>
<line x1="227.42" y1="497.60" x2="227.42" y2="498.80" stroke="#333" stroke-width="1.25"/>
<line x1="225.52" y1="497.60" x2="229.32" y2="497.60" stroke="#111" stroke-width="1.1"/>
<line x1="225.52" y1="498.80" x2="229.32" y2="498.80" stroke="#111" stroke-width="1.1"/>
<line x1="236.62" y1="498.65" x2="236.62" y2="499.85" stroke="#333" stroke-width="1.25"/>
<line x1="234.72" y1="498.65" x2="238.52" y2="498.65" stroke="#111" stroke-width="1.1"/>
<line x1="234.72" y1="499.85" x2="238.52" y2="499.85" stroke="#111" stroke-width="1.1"/>
<line x1="245.82" y1="496.70" x2="245.82" y2="497.90" stroke="#333" stroke-width="1.25"/>
<line x1="243.92" y1="496.70" x2="247.72" y2="496.70" stroke="#111" stroke-width="1.1"/>
<line x1="243.92" y1="497.90" x2="247.72" y2="497.90" stroke="#111" stroke-width="1.1"/>
<line x1="268.34" y1="462.51" x2="268.34" y2="465.51" stroke="#333" stroke-width="1.25"/>
<line x1="266.44" y1="462.51" x2="270.24" y2="462.51" stroke="#111" stroke-width="1.1"/>
<line x1="266.44" y1="465.51" x2="270.24" y2="465.51" stroke="#111" stroke-width="1.1"/>
<line x1="277.54" y1="483.10" x2="277.54" y2="485.50" stroke="#333" stroke-width="1.25"/>
<line x1="275.64" y1="483.10" x2="279.44" y2="483.10" stroke="#111" stroke-width="1.1"/>
<line x1="275.64" y1="485.50" x2="279.44" y2="485.50" stroke="#111" stroke-width="1.1"/>
<line x1="286.74" y1="477.79" x2="286.74" y2="484.39" stroke="#333" stroke-width="1.25"/>
<line x1="284.84" y1="477.79" x2="288.64" y2="477.79" stroke="#111" stroke-width="1.1"/>
<line x1="284.84" y1="484.39" x2="288.64" y2="484.39" stroke="#111" stroke-width="1.1"/>
<text transform="translate(67.16,510.20) scale(0.9904,1)" x="-0.75" y="0" font-size="8.1" fill="#231f20" stroke="#231f20" stroke-width="0.3">IgG</text>
<text transform="translate(100.57,510.20) scale(0.9044,1)" x="-0.66" y="0" font-size="8.1" fill="#231f20" stroke="#231f20" stroke-width="0.3">RNA Pol</text>
<text transform="translate(112.27,519.60) scale(1.0620,1)" x="-0.75" y="0" font-size="8.1" fill="#231f20" stroke="#231f20" stroke-width="0.3">II</text>
<text transform="translate(148.99,510.20) scale(0.9904,1)" x="-0.75" y="0" font-size="8.1" fill="#231f20" stroke="#231f20" stroke-width="0.3">IgG</text>
<text transform="translate(182.41,510.20) scale(0.9044,1)" x="-0.66" y="0" font-size="8.1" fill="#231f20" stroke="#231f20" stroke-width="0.3">RNA Pol</text>
<text transform="translate(194.11,519.60) scale(1.0620,1)" x="-0.75" y="0" font-size="8.1" fill="#231f20" stroke="#231f20" stroke-width="0.3">II</text>
<text transform="translate(230.82,510.20) scale(0.9904,1)" x="-0.75" y="0" font-size="8.1" fill="#231f20" stroke="#231f20" stroke-width="0.3">IgG</text>
<text transform="translate(264.24,510.20) scale(0.9044,1)" x="-0.66" y="0" font-size="8.1" fill="#231f20" stroke="#231f20" stroke-width="0.3">RNA Pol</text>
<text transform="translate(275.94,519.60) scale(1.0620,1)" x="-0.75" y="0" font-size="8.1" fill="#231f20" stroke="#231f20" stroke-width="0.3">II</text>
<rect x="66.70" y="412.20" width="4.30" height="4.60" fill="#4e6382"/>
<rect x="106.20" y="412.20" width="4.30" height="4.60" fill="#a03644"/>
<rect x="135.40" y="412.20" width="4.30" height="4.60" fill="#e5b740"/>
<text transform="translate(74.40,417.30) scale(0.8454,1)" x="-0.21" y="0" font-size="7.8" fill="#231f20" stroke="#231f20" stroke-width="0.3">shGFP</text>
<text transform="translate(113.70,417.30) scale(0.9644,1)" x="-0.21" y="0" font-size="7.8" fill="#231f20" stroke="#231f20" stroke-width="0.3">sh3</text>
<text transform="translate(143.20,417.30) scale(0.9300,1)" x="-0.21" y="0" font-size="7.8" fill="#231f20" stroke="#231f20" stroke-width="0.3">sh5</text>
<text transform="translate(20.30,485.90) rotate(-90) scale(0.9126,1)" x="-0.84" y="0" font-size="10.2" fill="#231f20" stroke="#231f20" stroke-width="0.12">Percentage of input</text>
<text transform="translate(80.00,532.30) scale(0.9830,1)" x="-0.67" y="0" font-size="8.2" fill="#231f20" stroke="#231f20" stroke-width="0.3">Negative</text>
<text transform="translate(82.80,541.50) scale(0.9970,1)" x="-0.41" y="0" font-size="8.2" fill="#231f20" stroke="#231f20" stroke-width="0.3">Control</text>
<text transform="translate(168.40,531.90) scale(0.9438,1)" x="-0.36" y="0" font-size="8.2" fill="#231f20" stroke="#231f20" stroke-width="0.3">-135kb</text>
<text transform="translate(152.90,541.70) scale(0.9143,1)" x="-0.67" y="0" font-size="8.2" fill="#231f20" stroke="#231f20" stroke-width="0.3">Enhancer Locus</text>
<text transform="translate(242.70,532.30) scale(0.8603,1)" x="-0.02" y="0" font-size="8.2" fill="#231f20" stroke="#231f20" stroke-width="0.3">ARID5B</text>
<text transform="translate(239.30,541.50) scale(0.9692,1)" x="-0.67" y="0" font-size="8.2" fill="#231f20" stroke="#231f20" stroke-width="0.3">Promoter</text>
<line x1="181.00" y1="402.60" x2="192.80" y2="402.60" stroke="#4a4a4a" stroke-width="1.25"/>
<circle cx="185.50" cy="399.40" r="1.3" fill="#4a4a4a"/>
<circle cx="188.90" cy="399.40" r="1.3" fill="#4a4a4a"/>
<line x1="182.10" y1="392.50" x2="205.80" y2="392.50" stroke="#4a4a4a" stroke-width="1.25"/>
<circle cx="192.00" cy="388.80" r="1.3" fill="#4a4a4a"/>
<circle cx="195.40" cy="388.80" r="1.3" fill="#4a4a4a"/>
<line x1="265.90" y1="450.30" x2="278.10" y2="450.30" stroke="#4a4a4a" stroke-width="1.25"/>
<circle cx="270.20" cy="446.90" r="1.3" fill="#4a4a4a"/>
<circle cx="273.80" cy="446.90" r="1.3" fill="#4a4a4a"/>
<line x1="266.50" y1="439.90" x2="290.60" y2="439.90" stroke="#4a4a4a" stroke-width="1.25"/>
<circle cx="278.60" cy="436.30" r="1.3" fill="#4a4a4a"/>
<text transform="translate(8.30,17.00) scale(0.9534,1)" x="-0.02" y="0" font-size="10.6" fill="#231f20" stroke="#231f20" stroke-width="0.05">A</text>
<text transform="translate(8.60,214.00) scale(0.9558,1)" x="-0.87" y="0" font-size="10.6" fill="#231f20" stroke="#231f20" stroke-width="0.05">B</text>
<text transform="translate(8.10,383.50) scale(1.0251,1)" x="-0.53" y="0" font-size="10.6" fill="#231f20" stroke="#231f20" stroke-width="0.05">C</text>
<text transform="translate(312.50,17.20) scale(1.1932,1)" x="-0.87" y="0" font-size="10.6" fill="#231f20" stroke="#231f20" stroke-width="0.05">D</text>
<text transform="translate(312.20,213.90) scale(0.8861,1)" x="-0.87" y="0" font-size="10.6" fill="#231f20" stroke="#231f20" stroke-width="0.05">E</text>
<line x1="348.20" y1="145.35" x2="351.50" y2="145.35" stroke="#2a2a2a" stroke-width="1"/>
<text transform="translate(341.44,148.10) scale(0.8800,1)" x="-0.32" y="0" font-size="8.2" fill="#231f20" stroke="#231f20" stroke-width="0.12">0</text>
<line x1="348.20" y1="127.36" x2="351.50" y2="127.36" stroke="#2a2a2a" stroke-width="1"/>
<text transform="translate(331.43,130.11) scale(0.8800,1)" x="-0.32" y="0" font-size="8.2" fill="#231f20" stroke="#231f20" stroke-width="0.12">0.05</text>
<line x1="348.20" y1="109.37" x2="351.50" y2="109.37" stroke="#2a2a2a" stroke-width="1"/>
<text transform="translate(335.50,112.12) scale(0.8800,1)" x="-0.32" y="0" font-size="8.2" fill="#231f20" stroke="#231f20" stroke-width="0.12">0.1</text>
<line x1="348.20" y1="91.37" x2="351.50" y2="91.37" stroke="#2a2a2a" stroke-width="1"/>
<text transform="translate(331.43,94.12) scale(0.8800,1)" x="-0.32" y="0" font-size="8.2" fill="#231f20" stroke="#231f20" stroke-width="0.12">0.15</text>
<line x1="348.20" y1="73.38" x2="351.50" y2="73.38" stroke="#2a2a2a" stroke-width="1"/>
<text transform="translate(335.51,76.13) scale(0.8800,1)" x="-0.32" y="0" font-size="8.2" fill="#231f20" stroke="#231f20" stroke-width="0.12">0.2</text>
<line x1="348.20" y1="55.39" x2="351.50" y2="55.39" stroke="#2a2a2a" stroke-width="1"/>
<text transform="translate(331.43,58.14) scale(0.8800,1)" x="-0.32" y="0" font-size="8.2" fill="#231f20" stroke="#231f20" stroke-width="0.12">0.25</text>
<line x1="348.20" y1="37.40" x2="351.50" y2="37.40" stroke="#2a2a2a" stroke-width="1"/>
<text transform="translate(335.46,40.15) scale(0.8800,1)" x="-0.32" y="0" font-size="8.2" fill="#231f20" stroke="#231f20" stroke-width="0.12">0.3</text>
<rect x="362.50" y="142.11" width="15.10" height="3.24" fill="#6ea8da"/>
<rect x="362.90" y="142.51" width="14.30" height="2.84" fill="none" stroke="#62a0d8" stroke-width="0.8"/>
<rect x="377.60" y="142.11" width="15.10" height="3.24" fill="#70aa46"/>
<rect x="378.00" y="142.51" width="14.30" height="2.84" fill="none" stroke="#68a63c" stroke-width="0.8"/>
<rect x="392.70" y="60.18" width="15.10" height="85.17" fill="#6c4a6a"/>
<rect x="393.10" y="60.58" width="14.30" height="84.77" fill="none" stroke="#66406a" stroke-width="0.8"/>
<rect x="429.50" y="143.08" width="15.10" height="2.27" fill="#6ea8da"/>
<rect x="429.90" y="143.48" width="14.30" height="1.87" fill="none" stroke="#62a0d8" stroke-width="0.8"/>
<rect x="444.60" y="144.20" width="15.10" height="1.15" fill="#70aa46"/>
<rect x="459.70" y="135.09" width="15.10" height="10.26" fill="#6c4a6a"/>
<rect x="460.10" y="135.49" width="14.30" height="9.86" fill="none" stroke="#66406a" stroke-width="0.8"/>
<line x1="351.50" y1="34.30" x2="351.50" y2="148.00" stroke="#2a2a2a" stroke-width="1.1"/>
<line x1="349.00" y1="145.35" x2="489.20" y2="145.35" stroke="#1c1c1c" stroke-width="1.1"/>
<line x1="418.50" y1="145.35" x2="418.50" y2="148.30" stroke="#333" stroke-width="1.1"/>
<line x1="485.70" y1="145.35" x2="485.70" y2="148.30" stroke="#333" stroke-width="1.1"/>
<line x1="370.05" y1="142.65" x2="370.05" y2="143.37" stroke="#333" stroke-width="1.25"/>
<line x1="368.15" y1="142.65" x2="371.95" y2="142.65" stroke="#111" stroke-width="1.1"/>
<line x1="368.15" y1="143.37" x2="371.95" y2="143.37" stroke="#111" stroke-width="1.1"/>
<line x1="385.15" y1="140.85" x2="385.15" y2="145.17" stroke="#333" stroke-width="1.25"/>
<line x1="383.25" y1="140.85" x2="387.05" y2="140.85" stroke="#111" stroke-width="1.1"/>
<line x1="383.25" y1="145.17" x2="387.05" y2="145.17" stroke="#111" stroke-width="1.1"/>
<line x1="400.25" y1="55.14" x2="400.25" y2="65.22" stroke="#333" stroke-width="1.25"/>
<line x1="398.35" y1="55.14" x2="402.15" y2="55.14" stroke="#111" stroke-width="1.1"/>
<line x1="398.35" y1="65.22" x2="402.15" y2="65.22" stroke="#111" stroke-width="1.1"/>
<line x1="437.05" y1="142.18" x2="437.05" y2="145.78" stroke="#333" stroke-width="1.25"/>
<line x1="435.15" y1="142.18" x2="438.95" y2="142.18" stroke="#111" stroke-width="1.1"/>
<line x1="435.15" y1="145.78" x2="438.95" y2="145.78" stroke="#111" stroke-width="1.1"/>
<line x1="452.15" y1="144.74" x2="452.15" y2="145.46" stroke="#333" stroke-width="1.25"/>
<line x1="450.25" y1="144.74" x2="454.05" y2="144.74" stroke="#111" stroke-width="1.1"/>
<line x1="450.25" y1="145.46" x2="454.05" y2="145.46" stroke="#111" stroke-width="1.1"/>
<line x1="467.25" y1="131.50" x2="467.25" y2="138.69" stroke="#333" stroke-width="1.25"/>
<line x1="465.35" y1="131.50" x2="469.15" y2="131.50" stroke="#111" stroke-width="1.1"/>
<line x1="465.35" y1="138.69" x2="469.15" y2="138.69" stroke="#111" stroke-width="1.1"/>
<line x1="367.90" y1="47.30" x2="404.00" y2="47.30" stroke="#3c3c3c" stroke-width="1.2"/>
<circle cx="384.20" cy="42.5" r="0.95" fill="#3a3a3a"/>
<circle cx="387.70" cy="42.5" r="0.95" fill="#3a3a3a"/>
<text transform="translate(404.80,28.80) scale(0.7841,1)" x="-0.16" y="0" font-size="10.4" fill="#231f20" stroke="#231f20" stroke-width="0.1">JURKAT</text>
<text transform="translate(373.50,158.30) scale(0.8231,1)" x="-0.02" y="0" font-size="8.0" fill="#231f20" stroke="#231f20" stroke-width="0.15">ARIEL</text>
<text transform="translate(438.80,158.30) scale(0.9307,1)" x="-0.40" y="0" font-size="8.0" fill="#231f20" stroke="#231f20" stroke-width="0.15">GAPDH</text>
<text transform="translate(323.60,129.90) rotate(-90) scale(0.9148,1)" x="-0.84" y="0" font-size="10.2" fill="#231f20" stroke="#231f20" stroke-width="0.12">Percentage of input</text>
<rect x="431.90" y="68.10" width="4.60" height="4.80" fill="#6ea8da"/>
<text transform="translate(439.80,73.00) scale(0.9682,1)" x="-0.74" y="0" font-size="8.0" fill="#231f20" stroke="#231f20" stroke-width="0.2">IgG</text>
<rect x="431.90" y="77.60" width="4.60" height="4.80" fill="#6aa640"/>
<text transform="translate(439.80,82.20) scale(0.9224,1)" x="-0.66" y="0" font-size="8.0" fill="#231f20" stroke="#231f20" stroke-width="0.2">Mediator 1</text>
<rect x="431.90" y="87.20" width="4.60" height="4.80" fill="#5e3a60"/>
<text transform="translate(439.80,91.70) scale(0.9249,1)" x="-0.66" y="0" font-size="8.0" fill="#231f20" stroke="#231f20" stroke-width="0.2">Mediator 12</text>
<text transform="translate(346.80,231.50) scale(0.9176,1)" x="-0.03" y="0" font-size="8.2" fill="#231f20" stroke="#231f20" stroke-width="0.3">Whole Cell Lysate</text>
<text transform="translate(366.10,243.00) scale(0.8384,1)" x="-0.02" y="0" font-size="8.2" fill="#231f20" stroke="#231f20" stroke-width="0.3">ARIEL Sense</text>
<text transform="translate(352.70,255.10) scale(0.8890,1)" x="-0.02" y="0" font-size="8.2" fill="#231f20" stroke="#231f20" stroke-width="0.3">ARIEL Antisense</text>
<line x1="419.10" y1="228.90" x2="423.10" y2="228.90" stroke="#3a3a3a" stroke-width="1.1"/>
<line x1="421.10" y1="226.90" x2="421.10" y2="230.90" stroke="#3a3a3a" stroke-width="1.1"/>
<rect x="443.50" y="228.20" width="2.20" height="1.40" fill="#666"/>
<rect x="470.00" y="228.20" width="2.20" height="1.40" fill="#666"/>
<rect x="420.00" y="239.80" width="2.20" height="1.40" fill="#666"/>
<line x1="442.60" y1="240.50" x2="446.60" y2="240.50" stroke="#3a3a3a" stroke-width="1.1"/>
<line x1="444.60" y1="238.50" x2="444.60" y2="242.50" stroke="#3a3a3a" stroke-width="1.1"/>
<rect x="470.00" y="239.80" width="2.20" height="1.40" fill="#666"/>
<rect x="420.00" y="252.10" width="2.20" height="1.40" fill="#666"/>
<rect x="443.50" y="252.10" width="2.20" height="1.40" fill="#666"/>
<line x1="469.10" y1="252.80" x2="473.10" y2="252.80" stroke="#3a3a3a" stroke-width="1.1"/>
<line x1="471.10" y1="250.80" x2="471.10" y2="254.80" stroke="#3a3a3a" stroke-width="1.1"/>
<text transform="translate(365.90,270.20) scale(0.9248,1)" x="-0.69" y="0" font-size="8.4" fill="#231f20" stroke="#231f20" stroke-width="0.3">Mediator 12</text>
<text transform="translate(369.90,288.80) scale(0.9148,1)" x="-0.69" y="0" font-size="8.4" fill="#231f20" stroke="#231f20" stroke-width="0.3">Mediator 1</text>
<text transform="translate(483.90,270.20) scale(0.8934,1)" x="-0.42" y="0" font-size="8.4" fill="#231f20" stroke="#231f20" stroke-width="0.3">240kDa</text>
<text transform="translate(483.90,288.30) scale(0.8934,1)" x="-0.42" y="0" font-size="8.4" fill="#231f20" stroke="#231f20" stroke-width="0.3">220kDa</text>
<rect x="413.10" y="260.30" width="67.30" height="13.60" fill="url(#bg1)" stroke="#5e5e5e" stroke-width="1.0"/>
<rect x="413.10" y="278.50" width="67.30" height="14.30" fill="url(#bg2)" stroke="#5e5e5e" stroke-width="1.0"/>
<g filter="url(#bl)">
<ellipse cx="421.2" cy="269.3" rx="3.9" ry="3.6" fill="#262626"/><ellipse cx="428.6" cy="269.1" rx="3.8" ry="3.5" fill="#262626"/><rect x="420.5" y="266.0" width="9" height="6.8" fill="#262626"/>
<ellipse cx="441.8" cy="268.6" rx="3.8" ry="2.9" fill="#282828"/><ellipse cx="450.3" cy="268.4" rx="3.6" ry="2.9" fill="#282828"/><rect x="441" y="266.3" width="10" height="4.5" fill="#2c2c2c"/>
<rect x="461.5" y="266.5" width="14.2" height="4.0" rx="2" fill="#e2e2e2"/>
<rect x="417.0" y="282.7" width="17.0" height="7.0" rx="3.5" fill="#1a1a1a"/>
</g><g filter="url(#bl2)">
<ellipse cx="443.8" cy="286.3" rx="3.6" ry="2.2" fill="#bcbcbc"/><ellipse cx="451.0" cy="286.3" rx="3.4" ry="2.2" fill="#bebebe"/>
<ellipse cx="464.6" cy="286.2" rx="3.6" ry="2.5" fill="#8c8c8c"/><ellipse cx="472.4" cy="286.2" rx="3.4" ry="2.5" fill="#8a8a8a"/>
</g>
<rect x="0" y="0" width="520" height="1" fill="#484848"/>
<rect x="1" y="1" width="518" height="1" fill="#a8a8a8"/>
<rect x="0" y="0" width="1" height="551" fill="#484848"/>
<rect x="1" y="1" width="1" height="549" fill="#a0a0a0"/>
<rect x="519" y="0" width="1" height="551" fill="#4a4a4a"/>
<rect x="518" y="1" width="1" height="549" fill="#9a9a9a"/>
<rect x="0" y="550" width="520" height="1" fill="#0e0e0e"/>
</svg>
</body></html>
